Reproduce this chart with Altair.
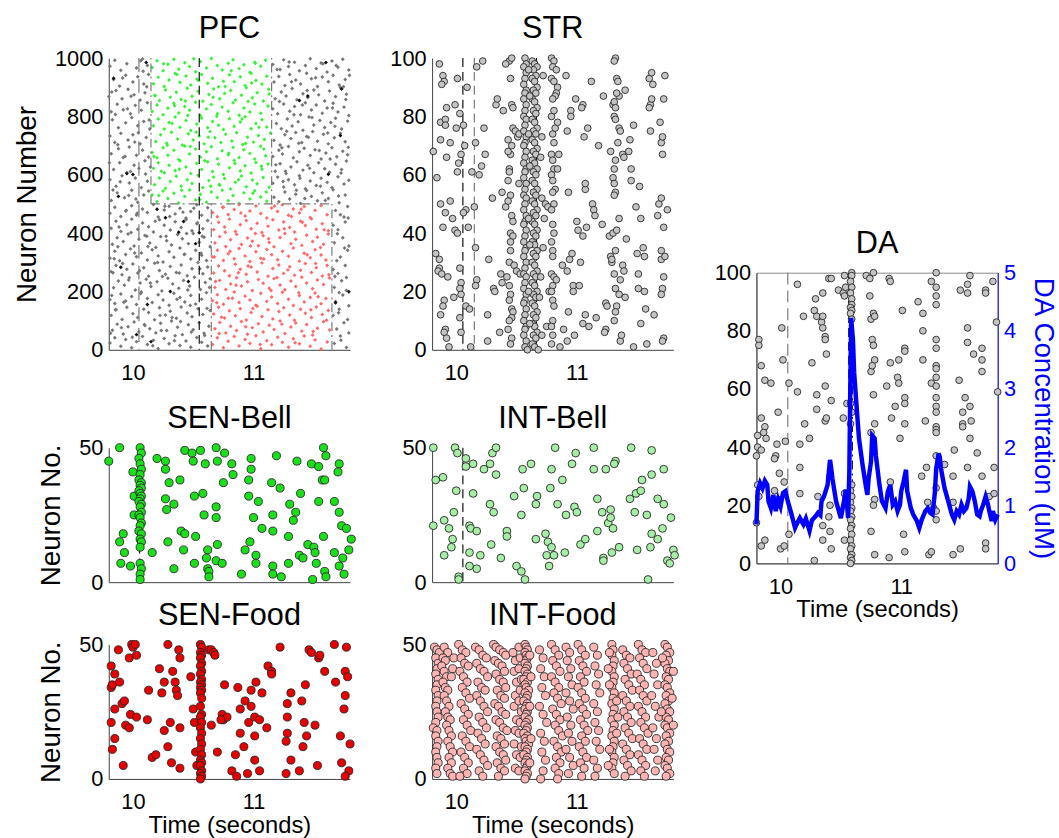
import altair as alt
import pandas as pd

FONT = "Liberation Sans"
XDOM = [9.8, 11.8]
W = 244

# ---------------- data (time in s, neuron index) ----------------
pfc_gray = [
(9.82,512),(9.87,538),(9.93,521),(9.99,547),(10.04,506),(10.09,531),(10.13,544),
(9.81,583),(9.86,561),(9.91,597),(9.97,572),(10.02,589),(10.07,556),(10.12,578),
(9.84,618),(9.89,641),(9.95,607),(10.01,633),(10.05,622),(10.10,648),(9.98,611),
(9.82,672),(9.88,689),(9.92,659),(9.97,695),(10.03,667),(10.08,684),(10.13,661),
(9.81,733),(9.85,711),(9.90,742),(9.96,719),(10.00,737),(10.06,706),(10.11,728),
(9.83,789),(9.88,761),(9.94,778),(9.99,796),(10.04,768),(10.09,783),(10.14,757),
(9.82,816),(9.87,842),(9.92,823),(9.98,809),(10.02,838),(10.07,821),(10.12,847),
(9.80,868),(9.86,889),(9.91,861),(9.96,893),(10.01,874),(10.06,856),(10.10,881),
(9.84,927),(9.89,904),(9.94,941),(10.00,918),(10.04,936),(10.09,911),(10.13,944),
(9.81,972),(9.85,993),(9.90,958),(9.95,981),(10.03,966),(10.08,997),(10.12,975),
(11.17,523),(11.21,508),(11.26,541),(11.30,517),(11.35,533),(11.39,502),(11.44,546),(11.48,526),(11.53,511),(11.57,538),(11.62,519),(11.66,549),(11.71,504),(11.76,531),
(11.16,571),(11.20,592),(11.25,558),(11.29,583),(11.34,566),(11.38,597),(11.43,552),(11.47,579),(11.52,563),(11.56,588),(11.61,574),(11.65,556),(11.70,593),(11.75,568),(11.79,581),
(11.18,612),(11.22,638),(11.27,604),(11.31,627),(11.36,645),(11.41,616),(11.45,633),(11.50,607),(11.54,641),(11.59,621),(11.63,609),(11.68,636),(11.73,618),(11.77,647),
(11.16,663),(11.21,684),(11.24,671),(11.29,697),(11.33,658),(11.38,679),(11.42,691),(11.47,666),(11.51,686),(11.56,654),(11.60,675),(11.65,693),(11.69,662),(11.74,681),(11.78,669),
(11.17,718),(11.22,702),(11.26,737),(11.31,724),(11.35,745),(11.40,711),(11.44,731),(11.49,748),(11.53,715),(11.58,739),(11.62,706),(11.67,727),(11.72,742),(11.76,713),
(11.19,776),(11.23,758),(11.28,791),(11.32,767),(11.37,782),(11.41,753),(11.46,798),(11.50,771),(11.55,786),(11.59,762),(11.64,779),(11.68,794),(11.73,757),(11.78,784),
(11.16,826),(11.20,809),(11.25,843),(11.30,818),(11.34,834),(11.39,806),(11.43,847),(11.48,822),(11.52,839),(11.57,811),(11.61,829),(11.66,845),(11.70,815),(11.75,832),(11.79,803),
(11.18,861),(11.23,884),(11.27,870),(11.32,896),(11.36,857),(11.41,878),(11.45,865),(11.50,891),(11.54,874),(11.59,853),(11.63,887),(11.68,868),(11.72,899),(11.77,876),
(11.17,918),(11.21,937),(11.26,906),(11.30,944),(11.35,925),(11.39,911),(11.44,948),(11.48,929),(11.53,903),(11.57,935),(11.62,919),(11.66,941),(11.71,908),(11.76,927),
(11.16,978),(11.22,961),(11.25,994),(11.29,971),(11.34,986),(11.38,957),(11.43,975),(11.47,998),(11.52,964),(11.56,983),(11.61,952),(11.65,990),(11.70,969),(11.74,996),(11.79,959),
(9.81,23),(9.85,41),(9.90,12),(9.94,35),(9.99,7),(10.03,28),(10.08,46),(10.12,18),(10.17,33),(10.21,4),(10.26,39),(10.30,21),(10.35,48),(10.39,15),(10.44,30),(10.48,9),(10.53,42),(10.57,26),(10.62,13),
(9.83,67),(9.87,88),(9.92,54),(9.96,79),(10.01,95),(10.05,61),(10.10,83),(10.14,72),(10.19,58),(10.23,91),(10.28,66),(10.32,99),(10.37,77),(10.41,52),(10.46,86),(10.50,69),(10.55,93),(10.59,57),(10.63,81),
(9.82,118),(9.86,137),(9.91,104),(9.95,146),(10.00,124),(10.04,111),(10.09,139),(10.13,128),(10.18,103),(10.22,144),(10.27,119),(10.31,132),(10.36,108),(10.40,147),(10.45,126),(10.49,113),(10.54,141),(10.58,121),(10.64,135),
(9.81,172),(9.85,159),(9.90,191),(9.94,167),(9.99,183),(10.03,155),(10.07,198),(10.12,176),(10.16,162),(10.21,189),(10.25,171),(10.30,153),(10.34,194),(10.39,179),(10.43,164),(10.48,186),(10.52,157),(10.57,173),(10.61,196),
(9.84,213),(9.88,236),(9.93,221),(9.97,247),(10.02,205),(10.06,229),(10.11,242),(10.15,217),(10.20,233),(10.24,202),(10.29,245),(10.33,226),(10.38,211),(10.42,238),(10.47,219),(10.51,249),(10.56,207),(10.60,231),(10.64,244),
(9.82,268),(9.86,289),(9.91,257),(9.95,276),(10.00,294),(10.04,263),(10.09,281),(10.13,252),(10.18,297),(10.22,272),(10.27,259),(10.31,286),(10.36,265),(10.40,291),(10.45,254),(10.49,278),(10.54,299),(10.58,261),(10.62,284),
(9.81,314),(9.85,338),(9.89,305),(9.94,327),(9.98,346),(10.03,319),(10.07,332),(10.12,308),(10.16,343),(10.21,322),(10.25,301),(10.30,336),(10.34,317),(10.39,349),(10.43,328),(10.48,311),(10.52,341),(10.57,324),(10.61,306),
(9.83,362),(9.87,384),(9.92,371),(9.96,397),(10.01,356),(10.05,379),(10.10,392),(10.14,366),(10.19,351),(10.23,388),(10.28,374),(10.32,359),(10.37,395),(10.41,381),(10.46,364),(10.50,399),(10.55,369),(10.59,386),(10.64,353),
(9.82,417),(9.86,441),(9.90,406),(9.95,429),(9.99,448),(10.04,413),(10.08,435),(10.13,422),(10.17,404),(10.22,446),(10.26,427),(10.31,411),(10.35,439),(10.40,419),(10.44,447),(10.49,408),(10.53,432),(10.58,415),(10.62,443),
(9.81,468),(9.85,489),(9.90,457),(9.94,476),(9.99,494),(10.03,462),(10.08,483),(10.12,471),(10.17,498),(10.21,455),(10.26,479),(10.30,492),(10.35,466),(10.39,485),(10.44,452),(10.48,474),(10.53,497),(10.57,461),(10.62,487),
(11.67,22),(11.72,47),(11.77,8),(11.69,71),(11.75,93),(11.79,58),(11.66,118),(11.71,139),(11.78,104),(11.68,166),(11.74,188),(11.79,151),(11.67,214),(11.73,237),(11.77,203),(11.70,262),(11.76,289),
(11.66,275),(11.72,318),(11.78,341),(11.69,305),(11.67,367),(11.74,384),(11.79,356),(11.70,412),(11.76,438),(11.66,427),(11.72,463),(11.78,491),(11.68,478),(11.75,455),(11.71,196),(11.77,248),
(9.835,548),(10.105,603),(9.955,826),(10.065,991),(9.875,703),(10.025,517),(9.915,932),(10.135,788),(9.805,641),(9.985,869),(10.045,744),(9.895,576),(10.115,902),(9.855,807),(9.935,663),(10.085,955),(9.965,529),(10.015,712),(9.825,884),(10.145,627),
(11.185,634),(11.745,902),(11.425,519),(11.295,987),(11.615,743),(11.335,806),(11.555,561),(11.785,694),(11.215,851),(11.465,622),(11.685,975),(11.245,577),(11.515,933),(11.375,708),(11.655,829),(11.275,749),(11.595,512),(11.445,889),
(11.725,606),(11.195,961),(11.545,683),(11.355,547),(11.765,858),(11.485,796),(11.315,919),(11.635,654),(11.405,839),(11.705,527),(11.235,693),(11.575,981),(11.265,612),(11.675,766),(11.455,729),(11.795,941),(11.385,588),
(9.845,312),(10.395,97),(10.185,441),(9.925,163),(10.555,278),(10.275,389),(9.815,57),(10.455,205),(10.035,468),(10.615,142),(9.965,239),(10.345,31),(10.125,354),(9.885,421),(10.505,485),(10.225,118),(9.905,76),(10.575,389),
(10.065,193),(10.425,327),(9.835,264),(10.305,457),(10.165,14),(10.485,61),(9.985,402),(10.245,251),(10.635,214),(10.095,87),(9.855,137),(10.365,173),(10.535,436),(10.015,332),(10.205,299),(9.945,478),(10.445,399),(10.145,229),
(10.325,111),(9.875,353),(10.595,49),(10.055,271),(10.265,492),(9.825,186),(10.475,152),(10.115,389),(10.385,263),(9.995,43),(10.565,331),(10.235,66),(9.915,296),(10.415,472),
(11.705,127),(11.755,349),(11.675,251),(11.785,452),(11.725,33),(11.695,398),
]
pfc_dark = [(9.84,931),(9.95,604),(9.88,526),(10.00,601),(10.11,985),(10.20,482),(10.27,453),(10.38,403),(10.46,234),
(10.52,364),(10.55,401),(10.03,52),(10.15,28),(10.31,200),(11.45,870),(11.38,855),(11.60,985),(11.72,735),
(11.73,894),(11.62,602),(11.79,199),(11.68,161),(10.12,155),(10.42,440),(9.90,283)]
pfc_green = [
(10.16,531),(10.20,508),(10.25,544),(10.29,519),(10.34,537),(10.38,503),(10.43,526),(10.47,548),(10.52,514),(10.56,533),(10.61,506),(10.65,541),(10.70,522),(10.74,547),(10.79,511),(10.83,529),(10.88,502),(10.92,538),(10.97,517),(11.01,545),(11.06,524),(11.11,509),
(10.18,566),(10.22,589),(10.27,553),(10.31,577),(10.36,595),(10.40,561),(10.45,583),(10.49,570),(10.54,598),(10.58,556),(10.63,580),(10.67,592),(10.72,564),(10.76,587),(10.81,551),(10.85,574),(10.90,596),(10.94,559),(10.99,582),(11.03,569),(11.08,591),(11.13,557),
(10.17,622),(10.21,641),(10.26,607),(10.30,633),(10.35,615),(10.39,648),(10.44,627),(10.48,604),(10.53,639),(10.57,618),(10.62,645),(10.66,611),(10.71,636),(10.75,601),(10.80,624),(10.84,649),(10.89,613),(10.93,631),(10.98,606),(11.02,642),(11.07,619),(11.12,637),
(10.16,676),(10.20,658),(10.25,693),(10.29,667),(10.34,684),(10.38,652),(10.43,699),(10.47,671),(10.52,688),(10.56,661),(10.61,679),(10.65,696),(10.70,655),(10.74,682),(10.79,669),(10.83,694),(10.88,659),(10.92,686),(10.97,673),(11.01,654),(11.06,698),(11.10,665),
(10.19,714),(10.23,737),(10.28,708),(10.32,746),(10.37,723),(10.41,702),(10.46,741),(10.50,719),(10.55,733),(10.59,706),(10.64,748),(10.68,727),(10.73,711),(10.77,739),(10.82,716),(10.86,744),(10.91,704),(10.95,729),(11.00,712),(11.04,735),(11.09,721),(11.14,743),
(10.17,768),(10.21,791),(10.26,757),(10.30,779),(10.35,798),(10.39,763),(10.44,786),(10.48,752),(10.53,774),(10.57,795),(10.62,761),(10.66,783),(10.71,770),(10.75,755),(10.80,792),(10.84,766),(10.89,781),(10.93,799),(10.98,758),(11.02,776),(11.07,789),(11.11,764),
(10.16,817),(10.20,839),(10.25,806),(10.29,828),(10.34,845),(10.38,812),(10.43,834),(10.47,821),(10.52,849),(10.56,803),(10.61,826),(10.65,841),(10.70,809),(10.74,832),(10.79,818),(10.83,847),(10.88,804),(10.92,829),(10.97,815),(11.01,843),(11.06,811),(11.12,836),
(10.18,872),(10.22,855),(10.27,891),(10.31,866),(10.36,883),(10.40,858),(10.45,897),(10.49,869),(10.54,886),(10.58,852),(10.63,875),(10.67,894),(10.72,861),(10.76,879),(10.81,889),(10.85,856),(10.90,873),(10.94,898),(10.99,864),(11.03,881),(11.08,853),(11.13,877),
(10.17,912),(10.21,934),(10.26,903),(10.30,925),(10.35,947),(10.39,917),(10.44,939),(10.48,908),(10.53,928),(10.57,944),(10.62,914),(10.66,931),(10.71,902),(10.75,921),(10.80,943),(10.84,919),(10.89,936),(10.93,906),(10.98,948),(11.02,923),(11.07,911),(11.11,938),
(10.16,968),(10.20,991),(10.25,957),(10.29,979),(10.34,996),(10.38,962),(10.43,984),(10.47,971),(10.52,953),(10.56,988),(10.61,966),(10.65,999),(10.70,975),(10.74,959),(10.79,982),(10.83,994),(10.88,964),(10.92,977),(10.97,951),(11.01,986),(11.06,972),(11.10,993),
(10.235,612),(10.815,957),(10.455,803),(10.995,537),(10.625,729),(10.185,872),(11.085,688),(10.555,515),(10.905,791),(10.365,944),(10.715,567),(11.125,893),(10.285,701),(10.845,639),(10.505,998),(10.955,851),(10.405,547),(10.665,866),(11.045,763),(10.325,776),
(10.765,903),(10.595,648),(10.215,529),(11.015,982),(10.475,697),(10.875,583),(10.695,801),(10.385,619),(11.105,541),(10.545,923),(10.935,707),(10.255,981),(10.795,674),(10.435,853),(11.065,629),(10.645,561),(10.345,837),(10.985,915),(10.525,746),(10.175,663),
]
pfc_red = [
(10.66,18),(10.70,41),(10.75,7),(10.79,29),(10.84,46),(10.88,13),(10.93,35),(10.97,22),(11.02,48),(11.06,4),(11.11,31),(11.15,17),(11.20,43),(11.24,26),(11.29,9),(11.33,38),(11.38,21),(11.42,47),(11.47,12),(11.51,34),(11.56,3),(11.61,27),
(10.68,72),(10.72,94),(10.77,58),(10.81,81),(10.86,66),(10.90,97),(10.95,53),(10.99,76),(11.04,89),(11.08,61),(11.13,84),(11.17,70),(11.22,99),(11.26,56),(11.31,78),(11.35,92),(11.40,64),(11.44,87),(11.49,51),(11.53,74),(11.58,96),(11.63,68),
(10.67,123),(10.71,146),(10.76,109),(10.80,134),(10.85,117),(10.89,141),(10.94,102),(10.98,128),(11.03,149),(11.07,114),(11.12,137),(11.16,106),(11.21,131),(11.25,144),(11.30,119),(11.34,101),(11.39,139),(11.43,125),(11.48,111),(11.52,147),(11.57,121),(11.62,135),
(10.66,168),(10.70,189),(10.75,156),(10.79,177),(10.84,198),(10.88,162),(10.93,184),(10.97,171),(11.02,153),(11.06,194),(11.11,166),(11.15,181),(11.20,159),(11.24,197),(11.29,173),(11.33,152),(11.38,186),(11.42,164),(11.47,179),(11.51,195),(11.56,158),(11.60,176),
(10.68,214),(10.72,238),(10.77,207),(10.81,226),(10.86,247),(10.90,219),(10.95,233),(10.99,203),(11.04,241),(11.08,228),(11.13,211),(11.17,244),(11.22,222),(11.26,206),(11.31,236),(11.35,217),(11.40,249),(11.44,229),(11.49,209),(11.53,239),(11.58,224),(11.63,246),
(10.67,263),(10.71,287),(10.76,271),(10.80,254),(10.85,293),(10.89,276),(10.94,259),(10.98,284),(11.03,267),(11.07,298),(11.12,252),(11.16,279),(11.21,291),(11.25,262),(11.30,285),(11.34,256),(11.39,273),(11.43,296),(11.48,265),(11.52,281),(11.57,253),(11.61,289),
(10.66,318),(10.70,341),(10.75,306),(10.79,329),(10.84,312),(10.88,347),(10.93,322),(10.97,303),(11.02,336),(11.06,314),(11.11,344),(11.15,326),(11.20,309),(11.24,338),(11.29,321),(11.33,349),(11.38,304),(11.42,331),(11.47,316),(11.51,343),(11.56,325),(11.60,308),
(10.68,366),(10.72,388),(10.77,354),(10.81,377),(10.86,396),(10.90,361),(10.95,383),(10.99,372),(11.04,357),(11.08,391),(11.13,368),(11.17,353),(11.22,385),(11.26,399),(11.31,364),(11.35,379),(11.40,358),(11.44,393),(11.49,371),(11.53,386),(11.58,362),(11.62,397),
(10.67,412),(10.71,437),(10.76,421),(10.80,448),(10.85,406),(10.89,429),(10.94,443),(10.98,415),(11.03,434),(11.07,402),(11.12,424),(11.16,446),(11.21,411),(11.25,438),(11.30,419),(11.34,404),(11.39,441),(11.43,426),(11.48,449),(11.52,413),(11.57,432),(11.62,408),
(10.66,471),(10.70,456),(10.75,489),(10.79,464),(10.84,481),(10.88,498),(10.93,459),(10.97,476),(11.02,493),(11.06,467),(11.11,452),(11.15,486),(11.20,474),(11.24,497),(11.29,461),(11.33,483),(11.38,469),(11.42,491),(11.47,454),(11.51,478),(11.56,495),(11.61,463),
(10.735,112),(11.315,457),(10.955,287),(11.495,63),(11.125,381),(10.685,234),(11.585,412),(11.055,18),(10.805,338),(11.375,196),(10.895,469),(11.235,88),(11.625,257),(10.765,403),(11.445,326),(10.995,142),(11.175,493),(10.715,56),(11.535,182),(10.855,221),
(11.285,274),(11.015,399),(10.675,318),(11.405,437),(10.935,79),(11.195,248),(11.555,351),(10.825,177),(11.345,24),(11.085,311),(10.745,489),(11.475,137),(10.975,356),(11.255,415),(11.605,101),(10.875,264),(11.145,203),(11.395,482),(10.695,161),(11.515,296),
]

str_spikes = [
(9.86,98),(9.89,94),(9.90,92),(9.88,91),(9.92,83),(9.87,78),(9.91,79),(9.91,77),(9.95,71),(9.87,72),(9.92,66),(9.81,68),(9.84,59),(9.87,50),(9.91,47),(9.95,51),(9.89,42),(9.83,33),(9.86,31),(9.86,28),
(9.85,27),(9.88,26),(9.93,25),(9.90,17),(9.89,15),(9.87,12),(9.91,7),(9.90,6),(9.92,4),(9.94,1),(9.99,84),(10.01,93),(10.00,76),(10.03,81),(10.02,64),(10.01,61),(10.04,67),(9.97,45),(9.99,41),(10.01,40),
(9.98,18),(10.03,28),(10.04,23),(10.03,21),(10.04,19),(10.03,11),(10.04,6),(10.06,77),(10.07,70),(10.08,48),(10.06,47),(10.09,90),(10.10,42),(10.08,15),(10.11,14),(10.12,1),(10.13,61),(10.15,49),(10.16,71),(10.17,97),
(10.16,35),(10.17,24),(10.16,22),(10.22,99),(10.19,60),(10.21,63),(10.23,76),(10.24,67),(10.27,31),(10.26,12),(10.26,3),(10.30,52),(10.31,21),(10.32,20),(10.33,84),(10.34,86),(10.39,82),(10.38,54),(10.41,49),(10.37,26),
(10.38,23),(10.36,6),(10.44,99),(10.46,100),(10.45,93),(10.46,84),(10.47,83),(10.43,72),(10.47,76),(10.46,70),(10.45,67),(10.43,68),(10.44,62),(10.44,61),(10.43,58),(10.45,53),(10.43,51),(10.46,46),(10.47,44),(10.45,40),
(10.47,39),(10.45,37),(10.45,34),(10.44,30),(10.48,29),(10.42,25),(10.44,22),(10.45,19),(10.44,17),(10.46,14),(10.47,13),(10.46,11),(10.44,10),(10.43,7),(10.46,4),(10.45,2),(10.49,75),(10.51,73),(10.52,57),(10.50,27),
(10.53,26),(10.52,74),(10.41,98),
(10.57,100),(10.58,98),(10.56,97),(10.58,95),(10.57,93),(10.56,91),(10.58,89),(10.57,88),(10.56,86),(10.58,84),(10.57,82),(10.56,80),(10.58,79),(10.57,77),(10.56,75),(10.58,73),(10.57,71),(10.56,70),(10.58,68),(10.57,66),
(10.56,64),(10.58,62),(10.57,61),(10.56,59),(10.58,57),(10.57,55),(10.56,53),(10.58,52),(10.57,50),(10.56,48),(10.58,46),(10.57,44),(10.56,43),(10.58,41),(10.57,39),(10.56,37),(10.58,35),(10.57,34),(10.56,32),(10.58,30),
(10.57,28),(10.56,26),(10.58,25),(10.57,23),(10.56,21),(10.58,19),(10.57,17),(10.56,16),(10.58,14),(10.57,12),(10.56,10),(10.58,8),(10.57,7),(10.56,5),(10.58,3),(10.57,1),(10.59,0),
(10.63,99),(10.65,98),(10.67,97),(10.64,96),(10.66,94),(10.63,93),(10.65,92),(10.67,90),(10.64,89),(10.66,88),(10.63,86),(10.65,85),(10.67,83),(10.64,82),(10.66,81),(10.63,79),(10.65,78),(10.67,76),(10.64,75),(10.66,74),
(10.63,72),(10.65,71),(10.67,69),(10.64,68),(10.66,67),(10.63,65),(10.65,64),(10.67,62),(10.64,61),(10.66,60),(10.63,58),(10.65,57),(10.67,55),(10.64,54),(10.66,53),(10.63,51),(10.65,50),(10.67,48),(10.64,47),(10.66,46),
(10.63,44),(10.65,43),(10.67,41),(10.64,40),(10.66,39),(10.63,37),(10.65,36),(10.67,34),(10.64,33),(10.66,32),(10.63,30),(10.65,29),(10.67,27),(10.64,26),(10.66,25),(10.63,23),(10.65,22),(10.67,20),(10.64,19),(10.66,18),
(10.63,16),(10.65,15),(10.67,13),(10.64,12),(10.66,11),(10.63,9),(10.65,8),(10.67,6),(10.64,5),(10.66,4),(10.63,2),(10.65,1),(10.68,0),
(10.60,96),(10.61,87),(10.60,74),(10.61,63),(10.60,45),(10.61,36),(10.60,20),(10.61,9),
(10.72,94),(10.71,73),(10.70,66),(10.71,52),(10.73,45),(10.72,35),(10.70,25),(10.69,18),(10.71,5),(10.74,50),(10.76,49),(10.77,20),(10.75,8),(10.79,100),(10.81,99),(10.80,97),(10.83,96),(10.79,93),(10.81,92),(10.84,90),
(10.83,88),(10.82,87),(10.80,86),(10.79,80),(10.81,82),(10.80,74),(10.82,76),(10.81,71),(10.79,67),(10.80,65),(10.81,62),(10.79,60),(10.80,58),(10.82,55),(10.80,54),(10.81,50),(10.79,48),(10.80,43),(10.81,40),(10.79,37),
(10.80,34),(10.80,32),(10.79,26),(10.81,25),(10.80,22),(10.79,20),(10.80,17),(10.81,15),(10.80,10),(10.79,8),(10.80,5),(10.79,2),(10.83,24),(10.84,62),(10.85,67),(10.84,78),(10.86,1),(10.88,29),(10.89,7),(10.91,94),
(10.92,75),(10.93,54),(10.92,27),(10.93,13),(10.92,3),(10.95,82),(10.95,80),(10.94,31),(10.96,33),(10.97,22),(10.97,20),(10.98,5),(10.99,86),(11.00,44),(11.01,41),(11.03,30),(11.02,22),(11.05,84),(11.04,83),(11.05,39),
(11.05,9),(11.06,73),(11.07,55),(11.07,57),(11.08,42),(11.07,12),(11.09,76),(11.10,8),(11.12,92),(11.13,50),(11.14,48),(11.15,46),(11.16,11),(11.18,70),(11.21,43),(11.22,87),(11.24,7),(11.23,6),(11.24,16),(11.25,15),
(11.27,39),(11.28,68),(11.28,32),(11.29,30),(11.29,31),(11.30,40),(11.30,59),(11.31,62),(11.32,65),(11.30,84),(11.31,85),(11.32,83),(11.31,80),(11.32,79),(11.31,57),(11.32,54),(11.31,53),(11.33,41),(11.32,34),(11.31,26),
(11.32,21),(11.33,15),(11.32,13),(11.31,10),(11.32,100),(11.31,99),(11.33,93),(11.35,87),(11.34,92),(11.33,88),(11.34,71),(11.35,76),(11.36,75),(11.35,45),(11.36,24),(11.35,19),(11.36,3),(11.37,5),(11.38,67),(11.39,66),
(11.38,29),(11.39,27),(11.40,89),(11.41,38),(11.40,18),(11.43,68),(11.44,72),(11.45,62),(11.45,58),(11.47,77),(11.47,1),(11.49,49),(11.51,26),(11.51,21),(11.50,33),(11.52,56),(11.53,45),(11.53,9),(11.55,35),(11.56,32),
(11.56,20),(11.57,14),(11.58,2),(11.60,93),(11.61,84),(11.60,83),(11.62,86),(11.61,75),(11.63,91),(11.62,95),(11.64,12),(11.67,46),(11.68,50),(11.70,31),(11.69,78),(11.70,71),(11.71,73),(11.71,67),(11.70,52),(11.72,42),
(11.73,32),(11.72,25),(11.71,21),(11.70,19),(11.72,4),(11.71,3),(11.73,94),(11.72,86),(11.75,48),(11.70,34),
]

sen_bell = [
(9.80,45),(9.89,50),(9.92,18),(9.89,15),(9.93,11),(9.90,7),(9.98,6),(10.00,41),(10.01,32),(10.01,25),
(10.06,50),(10.07,48),(10.05,46),(10.06,44),(10.07,42),(10.06,40),(10.05,38),(10.07,37),(10.06,36),(10.07,35),(10.05,34),(10.06,33),(10.07,32),(10.06,31),
(10.05,30),(10.07,29),(10.06,28),(10.07,26),(10.05,25),(10.06,24),(10.07,22),(10.06,21),(10.05,19),(10.07,18),(10.06,16),(10.07,15),(10.06,13),(10.06,7),(10.07,5),(10.06,3),(10.06,1),
(10.16,11),(10.20,46),(10.27,45),(10.27,42),(10.27,31),(10.28,27),(10.30,37),(10.29,15),(10.34,29),(10.34,5),(10.39,38),(10.42,12),(10.43,49),(10.40,19),(10.43,18),
(10.49,48),(10.50,45),(10.51,32),(10.52,17),(10.51,7),(10.56,49),(10.58,33),(10.59,25),(10.60,44),(10.62,12),(10.61,9),(10.62,5),(10.63,4),(10.63,2),(10.69,50),
(10.69,28),(10.69,24),(10.70,45),(10.70,14),(10.69,8),(10.74,7),(10.75,37),(10.76,48),(10.82,44),(10.83,40),(10.90,3),(10.93,12),(10.97,15),(10.96,32),(10.96,38),
(10.98,42),(10.98,46),(11.00,24),(11.02,10),(11.02,7),(11.04,30),(11.07,20),(11.15,37),(11.16,25),(11.16,19),(11.16,6),(11.16,3),(11.19,47),(11.22,35),(11.23,2),
(11.29,7),(11.29,17),(11.30,29),(11.35,26),(11.33,23),(11.36,45),(11.39,33),(11.38,10),(11.41,9),(11.45,14),(11.48,44),(11.49,1),(11.50,13),(11.51,11),(11.52,7),
(11.54,43),(11.54,30),(11.57,38),(11.58,50),(11.59,38),(11.60,47),(11.58,17),(11.59,4),(11.60,2),(11.67,11),(11.67,30),(11.71,44),(11.70,41),(11.71,26),(11.73,21),
(11.77,20),(11.71,6),(11.74,9),(11.75,3),(11.79,12),(11.81,16),
]

int_bell = [
(9.81,50),(9.83,38),(9.89,39),(9.81,21),(9.90,23),(9.94,20),(9.98,26),(9.97,16),(9.96,13),(9.90,10),(10.00,34),(9.99,50),(10.01,48),(10.02,2),(10.02,1),
(10.08,46),(10.08,43),(10.14,44),(10.14,33),(10.11,21),(10.12,20),(10.17,19),(10.11,11),(10.20,10),(10.11,6),(10.17,5),(10.23,42),(10.28,44),(10.30,48),(10.33,50),
(10.33,40),(10.28,29),(10.31,26),(10.29,14),(10.37,9),(10.42,19),(10.42,17),(10.48,32),(10.54,25),(10.55,42),(10.56,35),(10.62,44),(10.66,29),(10.67,32),(10.66,16),
(10.50,6),(10.54,4),(10.57,1),(10.74,18),(10.75,10),(10.76,15),(10.77,6),(10.79,13),(10.81,10),(10.78,35),(10.79,42),(10.82,50),(10.84,29),(10.88,38),(10.90,11),
(10.91,25),(10.96,44),(10.98,28),(10.99,48),(11.00,26),(11.03,14),(11.07,16),(11.14,50),(11.14,42),(11.17,19),(11.17,31),(11.21,26),(11.22,9),(11.22,8),(11.24,42),
(11.26,22),(11.28,27),(11.28,24),(11.29,11),(11.30,20),(11.32,45),(11.31,44),(11.35,13),(11.44,31),(11.45,50),(11.48,26),(11.49,33),(11.53,34),(11.54,38),(11.50,12),
(11.58,25),(11.59,1),(11.61,13),(11.62,18),(11.62,49),(11.62,40),(11.67,31),(11.67,16),(11.71,20),(11.72,29),(11.72,42),(11.78,24),(11.75,8),(11.77,7),(11.80,12),(11.81,10),
]

sen_food = [
(9.82,34),(9.83,35),(9.82,42),(9.85,39),(9.88,48),(9.89,36),(9.82,21),(9.85,15),(9.83,11),(9.85,26),(9.92,5),(9.91,28),(9.93,29),(9.94,20),(9.97,19),(9.98,24),
(9.97,45),(9.99,50),(10.00,49),(10.02,50),(10.03,46),(10.03,23),(10.12,22),(10.13,33),(10.16,8),(10.19,9),(10.22,41),(10.24,32),(10.26,18),(10.26,36),(10.29,50),
(10.29,12),(10.31,21),(10.32,6),(10.33,40),(10.35,36),(10.36,33),(10.37,31),(10.38,48),(10.39,45),(10.39,4),(10.39,19),(10.48,38),(10.50,26),(10.51,21),(10.52,10),(10.53,5),
(10.56,50),(10.57,49),(10.56,47),(10.57,46),(10.56,45),(10.57,43),(10.56,42),(10.57,40),(10.56,39),(10.57,37),(10.56,36),(10.57,35),(10.56,34),(10.57,33),(10.56,32),(10.57,30),
(10.56,27),(10.57,24),(10.56,23),(10.57,21),(10.56,19),(10.57,17),(10.56,15),(10.57,13),(10.56,11),(10.57,9),(10.56,7),(10.57,6),(10.56,5),(10.57,3),(10.56,2),(10.57,1),(10.56,0),
(10.63,48),(10.65,48),(10.67,47),(10.68,46),(10.65,20),(10.70,10),(10.74,24),(10.75,22),(10.78,23),(10.73,22),(10.76,35),(10.82,3),(10.85,9),(10.86,1),(10.87,34),(10.89,17),
(10.89,26),(10.92,12),(10.93,29),(10.95,2),(10.96,21),(10.98,33),(10.98,27),(11.01,7),(11.01,16),(11.01,23),(11.02,36),(11.05,3),(11.05,22),(11.07,32),(11.11,19),(11.12,42),
(11.15,40),(11.15,39),(11.22,49),(11.27,14),(11.28,28),(11.28,23),(11.27,2),(11.28,17),(11.31,32),(11.31,7),(11.38,3),(11.40,29),(11.41,12),(11.43,35),(11.42,21),(11.44,16),
(11.46,48),(11.48,47),(11.51,20),(11.53,5),(11.54,45),(11.55,46),(11.59,40),(11.67,50),(11.68,36),(11.72,16),(11.73,6),(11.75,26),(11.76,40),(11.77,49),(11.76,31),(11.78,38),
(11.80,13),(11.79,3),(11.76,1),
]

int_food = [
(9.82,49),(9.84,48),(9.86,47),(9.83,45),(9.85,43),(9.84,41),(9.83,39),(9.85,37),(9.84,35),(9.83,33),(9.85,31),(9.84,29),(9.83,27),(9.84,25),(9.85,23),(9.83,21),(9.81,19),(9.84,18),(9.83,16),(9.85,14),
(9.84,12),(9.83,10),(9.84,8),(9.85,6),(9.83,4),(9.84,2),
(9.90,49),(9.93,47),(9.89,45),(9.91,44),(9.88,42),(9.90,40),(9.92,38),(9.89,36),(9.91,34),(9.93,33),(9.90,31),(9.92,29),(9.94,27),(9.91,25),(9.93,23),(9.95,22),(9.92,20),(9.94,18),(9.96,16),(9.93,14),
(9.95,12),(9.97,10),(9.94,8),(9.96,6),(9.93,4),(9.95,2),(9.97,1),(9.98,45),(9.97,41),(9.96,38),
(10.02,50),(10.05,48),(10.08,47),(10.04,45),(10.07,43),(10.10,42),(10.03,40),(10.06,38),(10.09,36),(10.05,34),(10.08,32),(10.11,30),(10.04,28),(10.07,26),(10.10,24),(10.06,22),(10.09,20),(10.12,18),(10.05,16),(10.08,14),
(10.11,12),(10.04,10),(10.07,8),(10.10,6),(10.06,4),(10.09,2),(10.03,1),
(10.16,49),(10.19,48),(10.22,46),(10.25,45),(10.17,43),(10.20,41),(10.23,40),(10.26,38),(10.18,36),(10.21,34),(10.24,33),(10.17,31),(10.20,29),(10.23,27),(10.26,25),(10.19,23),(10.22,21),(10.25,19),(10.18,17),(10.21,15),
(10.24,13),(10.17,11),(10.20,9),(10.23,7),(10.26,5),(10.19,3),(10.22,1),
(10.31,50),(10.33,49),(10.36,48),(10.39,47),(10.41,46),(10.32,44),(10.35,43),(10.38,42),(10.40,40),(10.33,39),(10.36,37),(10.39,36),(10.41,34),(10.34,33),(10.37,31),(10.40,30),(10.32,28),(10.35,27),(10.38,25),(10.41,24),
(10.33,22),(10.36,21),(10.39,19),(10.42,18),(10.34,16),(10.37,15),(10.40,13),(10.33,12),(10.36,10),(10.39,9),(10.41,7),(10.34,6),(10.37,4),(10.40,3),(10.35,1),
(10.47,47),(10.49,44),(10.48,40),(10.50,36),(10.49,31),(10.48,27),(10.50,22),(10.49,18),(10.48,13),(10.50,9),(10.49,4),(10.52,49),(10.53,45),(10.52,41),(10.54,37),(10.53,33),(10.52,29),(10.54,25),(10.53,21),(10.52,17),
(10.54,12),(10.53,8),(10.52,3),
(10.57,50),(10.58,49),(10.59,48),(10.57,47),(10.58,46),(10.59,45),(10.58,44),(10.57,43),(10.59,42),(10.58,41),(10.57,40),(10.59,39),(10.58,38),(10.56,37),(10.59,36),(10.57,35),(10.58,34),(10.60,33),(10.57,32),(10.59,31),
(10.58,30),(10.56,29),(10.59,28),(10.58,27),(10.57,26),(10.59,25),(10.58,24),(10.57,23),(10.60,22),(10.58,21),(10.57,20),(10.59,19),(10.58,18),(10.56,17),(10.59,16),(10.57,15),(10.58,14),(10.60,13),(10.57,12),(10.59,11),
(10.58,10),(10.56,9),(10.59,8),(10.58,7),(10.57,6),(10.59,5),(10.58,4),(10.57,3),(10.59,2),(10.58,1),(10.57,0),(10.61,46),(10.62,38),(10.61,27),(10.62,15),(10.61,6),
(10.69,48),(10.72,45),(10.70,41),(10.73,38),(10.71,34),(10.74,31),(10.69,27),(10.72,24),(10.75,21),(10.70,17),(10.73,14),(10.71,10),(10.74,7),(10.72,3),(10.70,0),
(10.79,50),(10.82,48),(10.85,46),(10.80,44),(10.83,42),(10.86,40),(10.79,38),(10.82,36),(10.85,34),(10.81,32),(10.84,30),(10.87,28),(10.80,26),(10.83,24),(10.86,22),(10.82,20),(10.85,18),(10.88,16),(10.81,14),(10.84,12),
(10.87,10),(10.83,8),(10.86,6),(10.82,4),(10.85,2),(10.84,0),
(10.91,49),(10.94,47),(10.92,44),(10.95,41),(10.93,38),(10.96,35),(10.91,32),(10.94,29),(10.97,26),(10.92,23),(10.95,20),(10.93,17),(10.96,14),(10.91,11),(10.94,8),(10.97,5),(10.93,2),
(11.01,50),(11.04,48),(11.07,46),(11.02,44),(11.05,42),(11.08,40),(11.03,38),(11.06,36),(11.01,34),(11.04,32),(11.07,30),(11.02,28),(11.05,26),(11.08,24),(11.03,22),(11.06,20),(11.09,18),(11.04,16),(11.07,14),(11.02,12),
(11.05,10),(11.08,8),(11.03,6),(11.06,4),(11.04,1),
(11.14,49),(11.17,46),(11.15,42),(11.18,39),(11.16,35),(11.19,32),(11.14,28),(11.17,25),(11.15,21),(11.18,18),(11.16,14),(11.19,11),(11.14,7),(11.17,4),(11.15,1),
(11.29,50),(11.30,48),(11.29,46),(11.31,44),(11.30,42),(11.29,40),(11.31,38),(11.30,36),(11.29,34),(11.31,32),(11.30,30),(11.29,28),(11.31,26),(11.30,24),(11.29,22),(11.31,20),(11.30,18),(11.29,16),(11.31,14),(11.30,12),
(11.29,10),(11.31,8),(11.30,6),(11.29,4),(11.31,2),(11.27,47),(11.26,41),(11.27,35),(11.33,29),(11.34,23),(11.33,17),(11.27,11),(11.26,5),
(11.38,48),(11.41,46),(11.44,45),(11.39,43),(11.42,41),(11.45,39),(11.40,37),(11.43,35),(11.46,33),(11.38,31),(11.41,29),(11.44,27),(11.39,25),(11.42,23),(11.45,21),(11.40,19),(11.43,17),(11.46,15),(11.38,13),(11.41,11),
(11.44,9),(11.39,7),(11.42,5),(11.45,3),(11.40,1),
(11.51,50),(11.54,48),(11.57,47),(11.52,45),(11.55,43),(11.58,41),(11.50,39),(11.53,37),(11.56,35),(11.52,33),(11.55,31),(11.58,29),(11.51,27),(11.54,25),(11.57,23),(11.53,21),(11.56,19),(11.59,17),(11.52,15),(11.55,13),
(11.58,11),(11.51,9),(11.54,7),(11.57,5),(11.53,3),(11.56,1),
(11.63,47),(11.66,43),(11.64,39),(11.67,35),(11.62,31),(11.65,27),(11.68,23),(11.63,19),(11.66,15),(11.64,11),(11.67,7),(11.65,3),
(11.73,50),(11.75,49),(11.77,47),(11.74,46),(11.76,44),(11.73,43),(11.75,41),(11.77,40),(11.74,38),(11.76,37),(11.73,35),(11.75,34),(11.77,32),(11.74,31),(11.76,29),(11.73,28),(11.75,26),(11.77,25),(11.74,23),(11.76,22),
(11.73,20),(11.75,19),(11.77,17),(11.74,16),(11.76,14),(11.73,13),(11.75,11),(11.77,10),(11.74,8),(11.76,7),(11.73,5),(11.75,4),(11.77,2),(11.74,1),(11.80,40),(11.79,30),(11.80,20),(11.71,45),(11.70,25),
]

da_spikes = [
(9.82,77),(9.82,75),(9.84,68),(9.87,63),(9.92,62),(9.84,50),(9.87,47),(9.86,45),(9.88,43),(9.81,44),(9.81,40),(9.84,39),(9.80,37),(9.96,37),(9.95,36),(9.97,41),(9.98,52),(9.99,31),(9.95,25),(9.98,22),
(9.81,27),(9.82,23),(9.80,14),(9.84,6),(9.87,8),(10.00,5),(10.03,6),(10.01,81),(10.02,70),(10.03,28),(10.04,42),(10.07,62),(10.07,10),(10.14,96),(10.14,59),(10.16,41),(10.16,33),(10.16,24),(10.19,85),(10.20,48),
(10.24,43),(10.26,69),(10.28,87),(10.30,85),(10.29,91),(10.28,1),(10.31,23),(10.30,53),(10.30,58),(10.34,83),(10.35,93),(10.35,85),(10.35,81),(10.37,78),(10.37,77),(10.37,61),(10.38,72),(10.35,13),(10.35,8),(10.37,49),
(10.38,50),(10.41,11),(10.42,5),(10.42,56),(10.40,98),(10.42,98),(10.41,20),(10.40,16),(10.41,30),(10.48,94),(10.52,50),(10.52,93),(10.53,92),(10.54,95),(10.53,8),(10.53,24),(10.53,99),(10.55,55),
(10.59,100),(10.59,99),(10.58,97),(10.59,95),(10.58,93),(10.59,91),(10.59,89),(10.58,88),(10.59,87),(10.58,86),(10.59,84),(10.58,55),(10.59,52),(10.58,48),(10.59,27),(10.58,25),(10.59,23),(10.58,21),(10.59,19),(10.58,18),
(10.59,16),(10.58,15),(10.59,13),(10.58,12),(10.59,10),(10.58,8),(10.59,6),(10.58,5),(10.59,3),(10.58,2),(10.59,1),(10.58,0),
(10.71,99),(10.74,98),(10.77,100),(10.75,84),(10.76,77),(10.77,75),(10.78,70),(10.74,92),(10.77,86),(10.78,85),(10.77,58),(10.75,66),(10.76,68),(10.78,48),(10.75,45),(10.78,22),(10.77,20),(10.75,11),(10.78,3),(10.88,61),
(10.90,2),(10.90,98),(10.91,97),(10.91,69),(10.92,50),(10.91,28),(10.95,54),(10.97,64),(10.98,62),(10.99,43),(10.98,70),(11.01,87),(11.02,10),(11.03,74),(11.03,73),(11.03,57),(11.03,55),(11.03,48),(11.03,4),(11.14,90),
(11.17,30),(11.18,86),(11.18,80),(11.18,70),(11.20,49),(11.21,33),(11.22,21),(11.23,3),(11.25,4),(11.25,97),(11.25,62),(11.27,19),(11.29,100),(11.29,95),(11.29,92),(11.29,89),(11.29,77),(11.29,74),(11.29,68),(11.29,67),
(11.29,64),(11.29,61),(11.29,57),(11.29,54),(11.29,52),(11.29,47),(11.29,46),(11.29,45),(11.29,37),(11.29,26),(11.29,18),(11.29,15),(11.36,34),(11.43,21),(11.43,3),(11.43,30),(11.44,39),(11.48,63),(11.49,5),(11.49,94),
(11.51,52),(11.51,48),(11.51,47),(11.53,57),(11.55,81),(11.55,76),(11.55,33),(11.55,93),(11.55,96),(11.57,99),(11.58,49),(11.57,54),(11.57,43),(11.60,72),(11.63,38),(11.67,74),(11.67,70),(11.67,66),(11.67,30),(11.70,94),
(11.70,93),(11.70,7),(11.70,5),(11.73,23),(11.76,97),(11.77,33),(11.77,24),(11.80,59),(11.79,83),
]

da_conc = [
(9.80,0.67),(9.81,1.24),(9.83,1.38),(9.85,1.29),(9.87,1.42),(9.89,1.35),(9.90,1.07),(9.92,0.95),(9.94,1.18),(9.96,0.90),(9.98,1.10),(10.00,0.98),(10.02,1.21),(10.04,1.24),(10.06,1.07),
(10.09,0.85),(10.12,0.61),(10.14,0.70),(10.16,0.78),(10.19,0.67),(10.21,0.77),(10.24,0.56),(10.26,0.74),(10.29,0.81),(10.31,0.87),(10.33,0.83),(10.34,1.07),(10.36,1.15),(10.39,1.35),(10.41,1.78),
(10.42,1.63),(10.43,1.46),(10.46,1.07),(10.50,0.78),(10.53,1.12),(10.54,1.27),(10.56,0.78),(10.57,1.58),(10.585,4.22),(10.60,3.85),(10.61,3.28),(10.63,2.71),(10.65,2.15),(10.68,1.69),(10.71,1.29),
(10.72,1.18),(10.73,1.46),(10.75,1.75),(10.76,2.20),(10.78,2.15),(10.79,1.86),(10.82,1.35),(10.84,1.07),(10.87,0.95),(10.89,1.24),(10.91,1.35),(10.93,1.01),(10.95,1.07),(10.97,0.90),(10.99,1.01),
(11.00,1.24),(11.02,1.41),(11.04,1.61),(11.05,1.24),(11.08,0.95),(11.10,0.84),(11.13,0.73),(11.15,0.61),(11.17,0.75),(11.20,0.90),(11.22,0.95),(11.24,0.87),(11.26,0.84),(11.28,1.24),(11.29,1.63),
(11.31,1.89),(11.32,1.83),(11.33,1.63),(11.36,1.29),(11.39,1.07),(11.42,0.84),(11.44,0.75),(11.46,0.90),(11.48,0.84),(11.50,1.01),(11.52,0.90),(11.54,0.95),(11.56,1.12),(11.57,1.32),(11.59,1.24),
(11.61,1.07),(11.63,0.84),(11.65,0.81),(11.66,0.90),(11.68,1.01),(11.70,1.15),(11.72,1.01),(11.73,0.90),(11.75,0.73),(11.76,0.90),(11.78,0.75),(11.80,0.84),
]

# event markers (seconds)
pfc_full_gray = [10.05]
pfc_full_black = [10.55]
pfc_box_upper = [10.15, 11.15]   # neurons 500-1000
pfc_box_lower = [10.65, 11.65]   # neurons 0-500
pfc_box_split = [(10.15, 11.65, 500)]
str_black = [10.055, 10.665]
str_gray = [10.15, 10.56]
bell_marks = [10.055]
food_marks = [10.56]
da_gray = [10.06]
da_black = [10.565]
da_dashdot = [10.595]


def df(pairs, cols=("t", "n")):
    return pd.DataFrame(pairs, columns=list(cols))


def X(field="t", labels=False, title=None):
    return alt.X(f"{field}:Q", scale=alt.Scale(domain=XDOM, nice=False, zero=False),
                 axis=alt.Axis(values=[10, 11], labels=labels, title=title, format="d",
                               labelPadding=13, titlePadding=1))


def Y(field, dom, vals, title=None, **ax):
    return alt.Y(f"{field}:Q", scale=alt.Scale(domain=dom, nice=False, zero=False),
                 axis=alt.Axis(values=vals, title=title, format="d", **ax))


def dots(data, fill, size, ydom, yvals, ytitle, xl, xt, stroke="#262626", sw=0.9):
    return alt.Chart(df(data)).mark_circle(
        fill=fill, stroke=stroke, strokeWidth=sw, size=size, opacity=1
    ).encode(x=X("t", xl, xt), y=Y("n", ydom, yvals, ytitle))


def small(data, color, ydom, yvals, ytitle):
    return alt.Chart(df(data)).mark_point(
        shape="diamond", filled=True, color=color, size=16, opacity=1
    ).encode(x=X("t", True), y=Y("n", ydom, yvals, ytitle))


def vrule(ts, color, dash, xl=False, xt=None):
    return alt.Chart(pd.DataFrame({"t": ts})).mark_rule(
        color=color, strokeDash=dash, strokeWidth=1.2
    ).encode(x=X("t", xl, xt))


def spacer(h):
    return alt.Chart(pd.DataFrame({"v": [0]})).mark_point(opacity=0).encode(
        x=alt.X("v:Q", axis=None), y=alt.Y("v:Q", axis=None)
    ).properties(width=W, height=h)


DASH = [9, 5]
DASHDOT = [9, 4, 2, 4]
GRAY = "#7a7a7a"

# ---------------- PFC ----------------
pfc_y = (([0, 1000], [0, 200, 400, 600, 800, 1000], "Neuron Number"))
upper = pd.DataFrame({"t": pfc_box_upper, "n0": 500, "n1": 1000})
lower = pd.DataFrame({"t": pfc_box_lower, "n0": 0, "n1": 500})
split = pd.DataFrame(pfc_box_split, columns=["t0", "t1", "n"])
box_layers = [
    alt.Chart(d).mark_rule(color=GRAY, strokeDash=DASHDOT, strokeWidth=1.2).encode(
        x=X("t", True), y=Y("n0", *pfc_y), y2="n1")
    for d in (upper, lower)
] + [alt.Chart(split).mark_rule(color=GRAY, strokeDash=DASHDOT, strokeWidth=1.2).encode(
        x=X("t0", True), x2="t1", y=Y("n", *pfc_y))]
pfc = alt.layer(
    small(pfc_gray, "#777777", *pfc_y),
    small(pfc_dark, "#111111", *pfc_y),
    small(pfc_green, "#3df03d", *pfc_y),
    small(pfc_red, "#ff6a6a", *pfc_y),
    vrule(pfc_full_gray, GRAY, [14, 7], True),
    vrule(pfc_full_black, "#111111", DASH, True),
    *box_layers,
).properties(width=W, height=295, title="PFC")

# ---------------- STR ----------------
str_y = ([0, 100], [0, 20, 40, 60, 80, 100], None)
strc = alt.layer(
    vrule(str_black, "#111111", DASH, True),
    vrule(str_gray, GRAY, DASH, True),
    dots(str_spikes, "#c4c4c4", 46, *str_y, True, None),
).properties(width=W, height=295, title="STR")

# ---------------- Bell / Food ----------------
b_y = ([0, 50], [0, 50])
sen_b = alt.layer(
    vrule(bell_marks, "#111111", DASH),
    dots(sen_bell, "#19e019", 66, *b_y, "Neuron No.", False, None),
).properties(width=W, height=136, title="SEN-Bell")
int_b = alt.layer(
    vrule(bell_marks, "#111111", DASH),
    dots(int_bell, "#a6eea6", 62, *b_y, None, False, None),
).properties(width=W, height=136, title="INT-Bell")
sen_f = alt.layer(
    vrule(food_marks, "#111111", DASH, True, "Time (seconds)"),
    dots(sen_food, "#e60000", 66, *b_y, "Neuron No.", True, "Time (seconds)"),
).properties(width=W, height=136, title="SEN-Food")
int_f = alt.layer(
    vrule(food_marks, "#111111", DASH, True, "Time (seconds)"),
    dots(int_food, "#ffb4b4", 66, *b_y, None, True, "Time (seconds)"),
).properties(width=W, height=136, title="INT-Food")

# ---------------- DA ----------------
da_left = alt.layer(
    vrule(da_gray, GRAY, [12, 6], True, "Time (seconds)"),
    vrule(da_black, "#111111", DASH, True, "Time (seconds)"),
    vrule(da_dashdot, "#111111", DASHDOT, True, "Time (seconds)"),
    dots(da_spikes, "#c4c4c4", 46, [0, 100], [0, 20, 40, 60, 80, 100], None, True, "Time (seconds)"),
)
da_line = alt.Chart(df(da_conc, ("t", "c"))).mark_line(
    color="#0000ff", strokeWidth=4.5
).encode(
    x=X("t", True, "Time (seconds)"),
    y=Y("c", [0, 5], [0, 1, 2, 3, 4, 5], "DA Concentration (uM)", orient="right",
        domainColor="#0000ff", labelColor="#0000ff", titleColor="#0000ff"),
)
da = alt.layer(da_left, da_line).resolve_scale(y="independent").properties(
    width=W, height=294, title="DA",
    view=alt.ViewBackground(stroke="#8a8a8a", strokeWidth=1),
)

col1 = alt.vconcat(pfc, spacer(59), sen_b, spacer(23), sen_f, spacing=20, bounds="flush")
col2 = alt.vconcat(strc, spacer(59), int_b, spacer(23), int_f, spacing=20, bounds="flush")
col3 = alt.vconcat(spacer(197), da, spacing=20, bounds="flush")

chart = alt.hconcat(alt.hconcat(col1, col2, spacing=32), col3, spacing=33).properties(
    padding={"left": 14, "top": 9, "right": 2, "bottom": 0}
).configure_view(strokeWidth=0).configure_axis(
    grid=False, ticks=False, domainColor="#404040", domainWidth=1,
    labelFont=FONT, labelFontSize=22, labelColor="#000000",
    titleFont=FONT, titleFontWeight="normal", titleColor="#000000",
).configure_axisX(titleFontSize=24).configure_axisY(
    labelPadding=6, titleFontSize=28, titlePadding=13
).configure_title(
    font=FONT, fontSize=31, fontWeight="normal", color="#000000", anchor="middle",
    frame="group", baseline="alphabetic", offset=2,
)

chart.save("out.html", embed_options={"renderer": "svg", "actions": False})
